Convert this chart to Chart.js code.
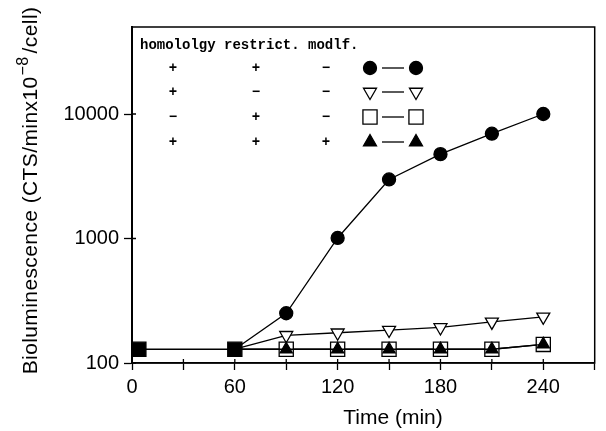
<!DOCTYPE html>
<html>
<head>
<meta charset="utf-8">
<script src="https://cdn.jsdelivr.net/npm/chart.js@4"></script>
<style>
  body { margin: 0; background: #fff; }
</style>
</head>
<body>
<canvas id="myChart" width="606" height="431"></canvas>
<script>
const times = [4, 60, 90, 120, 150, 180, 210, 240];
const circles = [null, 129, 251, 1010, 2980, 4760, 6950, 10000];
const trianglesDown = [null, 129, 167, 175, 184, 193, 214, 235];
const squares = [null, 129, 129, 129, 129, 129, 129, 141];
const trianglesUp = [129, 129, 129, 129, 129, 129, 129, 141];

const xLabels = [0, 60, 120, 180, 240];
const yLabels = [100, 1000, 10000];

const header = "homololgy restrict. modlf.";
const homology = ["+", "+", "\u2212", "+"];
const restrict = ["+", "\u2212", "+", "+"];
const modif = ["\u2212", "\u2212", "\u2212", "+"];

const xTitle = "Time (min)";
const yTitleParts = ["Bioluminescence (CTS/minx10", "\u22128", "/cell)"];

function toPoints(values) {
    return times.map((t, i) => ({ x: t, y: values[i] }));
}

// legend markers, same order as the rows of the little table
const markers = [
    { pointStyle: "circle", radius: 6.5, rotation: 0, fill: "#000" },
    { pointStyle: "triangle", radius: 7.5, rotation: 180, fill: "#fff" },
    { pointStyle: "rect", radius: 10, rotation: 0, fill: "#fff" },
    { pointStyle: "triangle", radius: 7.5, rotation: 0, fill: "#000" }
];

const extras = {
    id: "extras",
    afterDatasetsDraw(chart) {
        const ctx = chart.ctx;
        const area = chart.chartArea;
        ctx.save();
        // frame
        ctx.strokeStyle = "#000";
        ctx.lineWidth = 1.5;
        ctx.strokeRect(area.left, area.top, area.right - area.left, area.bottom - area.top);

        // ticks also poke a little inside the frame
        ctx.lineWidth = 1.3;
        ctx.beginPath();
        chart.scales.x.ticks.forEach((t) => {
            const px = chart.scales.x.getPixelForValue(t.value);
            if (px > area.left + 2 && px < area.right - 2) {
                ctx.moveTo(px, area.bottom);
                ctx.lineTo(px, area.bottom - 4);
            }
        });
        yLabels.forEach((v) => {
            const py = chart.scales.y.getPixelForValue(v);
            ctx.moveTo(area.left, py);
            ctx.lineTo(area.left + 4, py);
        });
        ctx.stroke();

        // table legend
        ctx.fillStyle = "#000";
        ctx.font = "bold 14px 'Liberation Mono'";
        ctx.textBaseline = "middle";
        ctx.textAlign = "left";
        ctx.fillText(header, 140, 45);
        const rows = [68, 92, 117, 142];
        ctx.textAlign = "center";
        rows.forEach((y, i) => {
            ctx.fillText(homology[i], 173, y);
            ctx.fillText(restrict[i], 256, y);
            ctx.fillText(modif[i], 326, y);
            ctx.beginPath();
            ctx.lineWidth = 1.3;
            ctx.moveTo(382, y);
            ctx.lineTo(404, y);
            ctx.stroke();
            const m = markers[i];
            [370, 416].forEach((x) => {
                ctx.fillStyle = m.fill;
                ctx.strokeStyle = "#000";
                ctx.lineWidth = 1.3;
                Chart.helpers.drawPoint(ctx, { pointStyle: m.pointStyle, radius: m.radius, rotation: m.rotation, borderWidth: 1.3 }, x, y);
            });
            ctx.fillStyle = "#000";
        });

        // axis titles
        ctx.font = "21px 'Liberation Sans'";
        ctx.textAlign = "center";
        ctx.textBaseline = "middle";
        ctx.fillText(xTitle, 393, 418);

        ctx.translate(30, 191);
        ctx.rotate(-Math.PI / 2);
        ctx.textAlign = "left";
        ctx.textBaseline = "alphabetic";
        ctx.letterSpacing = "0.4px";
        const mainFont = "21px 'Liberation Sans'";
        const supFont = "16px 'Liberation Sans'";
        ctx.font = mainFont;
        const w1 = ctx.measureText(yTitleParts[0]).width;
        const w3 = ctx.measureText(yTitleParts[2]).width;
        ctx.font = supFont;
        const w2 = ctx.measureText(yTitleParts[1]).width + 3;
        let x = -(w1 + w2 + w3) / 2;
        const base = 7;
        ctx.font = mainFont;
        ctx.fillText(yTitleParts[0], x, base);
        x += w1 + 1;
        ctx.font = supFont;
        ctx.fillText(yTitleParts[1], x, base - 9);
        x += w2;
        ctx.font = mainFont;
        ctx.fillText(yTitleParts[2], x, base);
        ctx.restore();
    }
};

const common = {
    borderColor: "#000",
    borderWidth: 1.3,
    pointBorderColor: "#000",
    pointBorderWidth: 1.3,
    tension: 0,
    fill: false
};

const chart = new Chart("myChart", {
    type: "line",
    data: {
        datasets: [
            {
                ...common,
                label: "circles",
                data: toPoints(circles),
                pointStyle: "circle",
                pointRadius: [0, 0, 6.5, 6.5, 6.5, 6.5, 6.5, 6.5],
                pointBackgroundColor: "#000",
                order: 4
            },
            {
                ...common,
                label: "triangles down",
                data: toPoints(trianglesDown),
                pointStyle: "triangle",
                rotation: 180,
                pointRadius: [0, 0, 7.5, 7.5, 7.5, 7.5, 7.5, 7.5],
                pointBackgroundColor: "#fff",
                order: 3
            },
            {
                ...common,
                label: "squares",
                data: toPoints(squares),
                pointStyle: "rect",
                pointRadius: [0, 0, 10, 10, 10, 10, 10, 10],
                pointBackgroundColor: "#fff",
                order: 2
            },
            {
                ...common,
                label: "triangles up",
                data: toPoints(trianglesUp),
                pointStyle: ["rect", "rect", "triangle", "triangle", "triangle", "triangle", "triangle", "triangle"],
                pointRadius: [10, 10, 7, 7, 7, 7, 7, 7],
                pointBackgroundColor: "#000",
                order: 1
            }
        ]
    },
    options: {
        responsive: false,
        animation: false,
        layout: { padding: { top: 27, right: 2, left: 0, bottom: 0 } },
        plugins: {
            legend: { display: false },
            tooltip: { enabled: false }
        },
        scales: {
            x: {
                type: "linear",
                min: 0,
                max: 270,
                afterFit: (s) => { s.height = 68; },
                border: { color: "#000", width: 1.5 },
                grid: { drawOnChartArea: false, tickLength: 7, tickColor: "#000", tickWidth: 1.3 },
                ticks: {
                    stepSize: 30,
                    color: "#000",
                    padding: 5,
                    font: { family: "Liberation Sans", size: 20 },
                    callback: (v) => xLabels.includes(v) ? v : ""
                }
            },
            y: {
                type: "logarithmic",
                min: 100,
                max: 50000,
                afterFit: (s) => { s.width = 132; },
                afterBuildTicks: (s) => { s.ticks = yLabels.map((v) => ({ value: v })); },
                border: { color: "#000", width: 2 },
                grid: { drawOnChartArea: false, tickLength: 8, tickColor: "#000", tickWidth: 1.3 },
                ticks: {
                    color: "#000",
                    padding: 5,
                    font: { family: "Liberation Sans", size: 20 },
                    callback: (v) => v
                }
            }
        }
    },
    plugins: [extras]
});
</script>
</body>
</html>
